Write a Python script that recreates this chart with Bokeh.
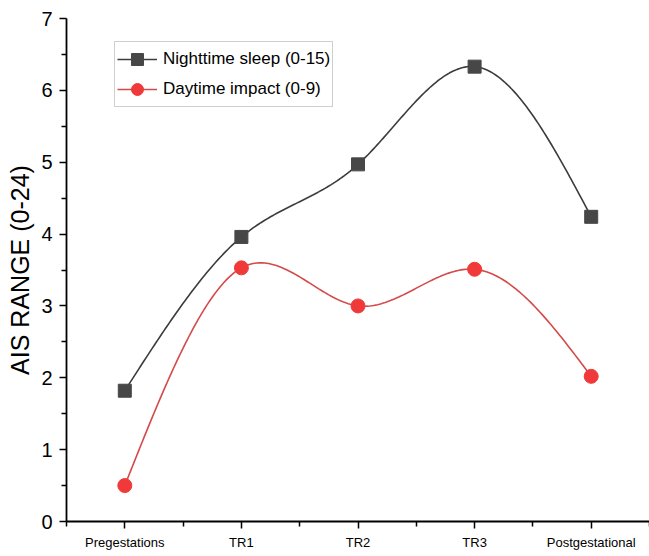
import numpy as np
from bokeh.plotting import figure
from bokeh.models import FixedTicker, Range1d, Legend, LegendItem
from bokeh.embed import file_html
from bokeh.resources import INLINE

categories = ["Pregestations", "TR1", "TR2", "TR3", "Postgestational"]
nighttime = [1.82, 3.96, 4.97, 6.33, 4.24]
daytime = [0.50, 3.53, 3.00, 3.51, 2.02]
y_ticks = [0, 1, 2, 3, 4, 5, 6, 7]

FONT = "Liberation Sans"


def natural_spline(xs, ys, n=60):
    xs = np.asarray(xs, float)
    ys = np.asarray(ys, float)
    k = len(xs)
    h = np.diff(xs)
    A = np.zeros((k, k))
    b = np.zeros(k)
    A[0, 0] = 1
    A[-1, -1] = 1
    for i in range(1, k - 1):
        A[i, i - 1] = h[i - 1]
        A[i, i] = 2 * (h[i - 1] + h[i])
        A[i, i + 1] = h[i]
        b[i] = 6 * ((ys[i + 1] - ys[i]) / h[i] - (ys[i] - ys[i - 1]) / h[i - 1])
    M = np.linalg.solve(A, b)
    outx, outy = [], []
    for i in range(k - 1):
        t = np.linspace(xs[i], xs[i + 1], n, endpoint=(i == k - 2))
        a = xs[i + 1] - t
        c = t - xs[i]
        y = (M[i] * a ** 3 + M[i + 1] * c ** 3) / (6 * h[i]) \
            + (ys[i] / h[i] - M[i] * h[i] / 6) * a \
            + (ys[i + 1] / h[i] - M[i + 1] * h[i] / 6) * c
        outx.extend(t)
        outy.extend(y)
    return outx, outy


xpos = list(range(len(categories)))

p = figure(width=649, height=556, output_backend="svg", toolbar_location=None,
           x_range=Range1d(-0.5, 4.5), y_range=Range1d(0, 7),
           min_border_left=66, min_border_right=0, min_border_top=18,
           min_border_bottom=35)
p.outline_line_color = None
p.grid.visible = False
p.background_fill_color = "white"
p.border_fill_color = "white"

black_line = "#3c3c3c"
black_fill = "#474747"
red_line = "#d44a4a"
red_fill = "#f03a3a"

sx, sy = natural_spline(xpos, nighttime)
l1 = p.line(sx, sy, line_color=black_line, line_width=1.6)
m1 = p.scatter(xpos, nighttime, marker="square", size=13, fill_color=black_fill,
               line_color=black_fill)
rx, ry = natural_spline(xpos, daytime)
l2 = p.line(rx, ry, line_color=red_line, line_width=1.6)
m2 = p.scatter(xpos, daytime, marker="circle", size=14, fill_color=red_fill,
               line_color=red_fill)

# axes
xa = p.xaxis[0]
xa.ticker = FixedTicker(ticks=xpos, minor_ticks=[-0.5 + i for i in range(6)])
xa.major_label_overrides = {i: c for i, c in enumerate(categories)}
xa.major_label_text_font = FONT
xa.major_label_text_font_size = "13px"
xa.major_label_text_color = "black"
xa.axis_line_width = 1.8
xa.axis_line_color = "black"
xa.major_tick_in = 0
xa.major_tick_out = 7
xa.minor_tick_in = 0
xa.minor_tick_out = 5
xa.major_tick_line_width = 1.5
xa.minor_tick_line_width = 1.5
xa.major_label_standoff = 6

ya = p.yaxis[0]
ya.ticker = FixedTicker(ticks=y_ticks, minor_ticks=[i + 0.5 for i in range(7)])
ya.major_label_text_font = FONT
ya.major_label_text_font_size = "20px"
ya.major_label_text_color = "black"
ya.axis_line_width = 1.8
ya.axis_line_color = "black"
ya.major_tick_in = 0
ya.major_tick_out = 7
ya.minor_tick_in = 0
ya.minor_tick_out = 5
ya.major_tick_line_width = 1.5
ya.minor_tick_line_width = 1.5
ya.major_label_standoff = 7
ya.axis_label = "AIS RANGE (0-24)"
ya.axis_label_text_font = FONT
ya.axis_label_text_font_size = "25px"
ya.axis_label_text_font_style = "normal"
ya.axis_label_text_color = "black"
ya.axis_label_standoff = 4

legend = Legend(items=[
    LegendItem(label="Nighttime sleep (0-15)", renderers=[l1, m1]),
    LegendItem(label="Daytime impact (0-9)", renderers=[l2, m2]),
], location=(48, 414))
legend.label_text_font = FONT
legend.label_text_font_size = "17px"
legend.label_text_color = "black"
legend.glyph_width = 40
legend.glyph_height = 30
legend.label_height = 30
legend.spacing = -9
legend.padding = 2
legend.margin = 0
legend.label_standoff = 6
legend.border_line_color = "#a0a0a0"
legend.border_line_width = 1.2
legend.background_fill_alpha = 1
p.add_layout(legend, "center")

open("out.html", "w").write(file_html(p, INLINE))
